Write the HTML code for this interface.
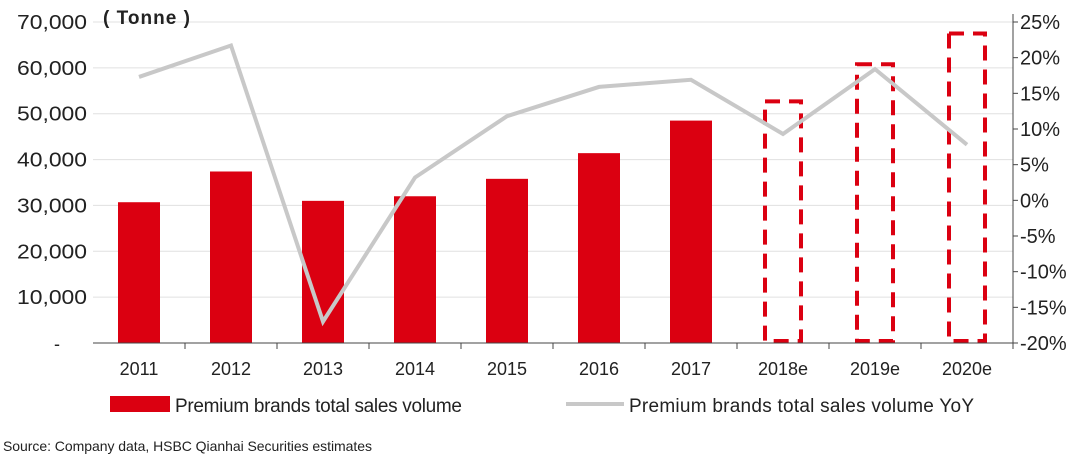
<!DOCTYPE html>
<html><head><meta charset="utf-8"><style>
body{margin:0;background:#fff;width:1080px;height:457px;overflow:hidden;font-family:"Liberation Sans",Arial,sans-serif}
</style></head><body>
<svg id="chart" width="1080" height="457" xmlns="http://www.w3.org/2000/svg" font-family="Liberation Sans, Arial, sans-serif"></svg>
<script>
const categories=["2011","2012","2013","2014","2015","2016","2017","2018e","2019e","2020e"];
const volumes=[30700,37400,31000,32000,35800,41400,48500,52700,60800,67500];
const estimated=[false,false,false,false,false,false,false,true,true,true];
const yoy=[17.3,21.7,-17.0,3.2,11.8,15.9,16.9,9.3,18.4,7.8];
const leftTicks=[0,10000,20000,30000,40000,50000,60000,70000];
const leftLabels=["-","10,000","20,000","30,000","40,000","50,000","60,000","70,000"];
const rightTicks=[-20,-15,-10,-5,0,5,10,15,20,25];

const svg=document.getElementById('chart');
const NS="http://www.w3.org/2000/svg";
const X0=93,X1=1013,Y0=343,Y1=22;
const slot=(X1-X0)/categories.length;
const xc=i=>X0+slot*(i+0.5);
const yL=v=>Y0-(v/70000)*(Y0-Y1);
const yR=v=>Y0-((v+20)/45)*(Y0-Y1);
function mk(t,a,txt){const e=document.createElementNS(NS,t);for(const k in a)e.setAttribute(k,a[k]);if(txt!==undefined)e.textContent=txt;svg.appendChild(e);return e;}

leftTicks.forEach((v,i)=>{
  if(v>0){const g=mk('line',{x1:X0,x2:X1,y1:yL(v),y2:yL(v),stroke:'#e0e0e0','stroke-width':1});
  
  }
  const t=mk('text',{x:v===0?60:87,y:yL(v)+7,'text-anchor':'end','font-size':v===0?18:20,fill:'#222'},leftLabels[i]);
  if(v!==0){t.setAttribute('textLength','70');t.setAttribute('lengthAdjust','spacingAndGlyphs');}
  
  
});
rightTicks.forEach(v=>{
  const t=mk('text',{x:1020,y:yR(v)+7,'font-size':20,fill:'#222'},v+'%');
  
  
  mk('line',{x1:X1,x2:X1+5,y1:yR(v),y2:yR(v),stroke:'#444'});
});
mk('line',{x1:X1,x2:X1,y1:Y1-8,y2:Y0,stroke:'#444'});

categories.forEach((c,i)=>{
  const v=volumes[i],top=yL(v);
  let b;
  if(!estimated[i]){
    b=mk('rect',{x:xc(i)-21,y:top,width:42,height:Y0-top,fill:'#db0011'});
  } else {
    b=mk('rect',{x:xc(i)-18,y:top,width:36,height:Y0-top-2,fill:'none',stroke:'#db0011','stroke-width':4,'stroke-dasharray':'15 9'});
  }
  
  
  const t=mk('text',{x:xc(i),y:375,'text-anchor':'middle','font-size':18,fill:'#222'},c);
  
  
  mk('line',{x1:X0+slot*(i+1),x2:X0+slot*(i+1),y1:Y0,y2:Y0+6,stroke:'#444'});
});
mk('line',{x1:X0,x2:X1,y1:Y0,y2:Y0,stroke:'#444'});

const pts=yoy.map((v,i)=>xc(i)+','+yR(v)).join(' ');
const pl=mk('polyline',{points:pts,fill:'none',stroke:'#c8c8c8','stroke-width':4});



const un=mk('text',{x:103,y:24,'font-size':19,'font-weight':'bold',fill:'#222',textLength:87},'( Tonne )');



const l1=mk('rect',{x:110,y:396,width:60,height:16,fill:'#db0011'});


const lt1=mk('text',{x:175,y:412,'font-size':19,fill:'#222',textLength:287},'Premium brands total sales volume');


const l2=mk('line',{x1:566,x2:624,y1:404,y2:404,stroke:'#c8c8c8','stroke-width':4});


const lt2=mk('text',{x:629,y:412,'font-size':19,fill:'#222',textLength:345},'Premium brands total sales volume YoY');


const src=mk('text',{x:3,y:451,'font-size':14,fill:'#222',textLength:369},'Source: Company data, HSBC Qianhai Securities estimates');


</script>
</body></html>
